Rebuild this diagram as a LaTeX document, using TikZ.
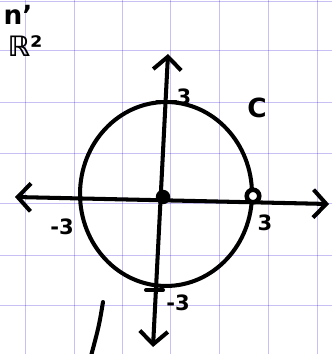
\documentclass[tikz,border=0pt]{standalone}
\usepackage{amsmath, amssymb}
\usepackage{fontspec}
\setsansfont{DejaVu Sans}
\usetikzlibrary{arrows.meta, positioning, calc}

\begin{document}
\begin{tikzpicture}[x=0.02cm, y=-0.02cm,
    pen/.style={line width=2.3pt, line cap=round, line join=round},
    barb/.tip={Straight Barb[length=2.6mm, width=5.6mm]},
    gridline/.style={draw=blue!70!violet, draw opacity=0.25, line width=0.5pt},
    lbl/.style={font=\sffamily\bfseries\fontsize{12}{14}\selectfont, inner sep=0pt},
    dot/.style={circle, fill=black, inner sep=0pt, minimum size=0.29cm},
    ring/.style={circle, draw=black, line width=2.6pt, fill=white, inner sep=0pt, minimum size=0.25cm}]
  \useasboundingbox (0,0) rectangle (332,354);
  \fill[white] (0,0) rectangle (332,354);

  % graph paper
  \foreach \gx in {25,74,122,170,219,268,317}
    \draw[gridline] (\gx,0) -- (\gx,354);
  \foreach \gy in {1,50,102,153,203,255,305}
    \draw[gridline] (0,\gy) -- (332,\gy);

  % axes
  \coordinate (W) at (15,197);
  \coordinate (E) at (329,204);
  \coordinate (N) at (168,54);
  \coordinate (S) at (153,347);
  \draw[pen, barb-barb] (W) -- (E);
  \draw[pen, barb-barb] (S) -- (N);

  % circle C
  \draw[pen] (166,194) ellipse [x radius=1.72cm, y radius=1.84cm];

  % ticks
  \coordinate (tt1) at (157,102);
  \coordinate (tt2) at (176,102);
  \coordinate (tb1) at (146,290);
  \coordinate (tb2) at (163,290);
  \draw[pen] (tt1) -- (tt2);
  \draw[pen] (tb1) -- (tb2);

  % points
  \node[dot] (O) at (163,197) {};
  \node[ring] (P) at (253,196) {};

  %label
  \node[lbl] (top3) at (184,97) {3};
  \node[lbl] (left3) at (62,227) {-3};
  \node[lbl] (right3) at (265,223) {3};
  \node[lbl] (bot3) at (178,303) {-3};
  \node[lbl, font=\sffamily\bfseries\fontsize{15}{17}\selectfont] (C) at (257,108) {C};
  \node[lbl, font=\sffamily\bfseries\fontsize{16}{18}\selectfont] (R2) at (25,46) {ℝ²};
  \node[lbl, font=\sffamily\bfseries\fontsize{15}{17}\selectfont] (top) at (18,15) {n'};

  % stray stroke
  \coordinate (s1) at (103,302);
  \coordinate (s2) at (91,356);
  \draw[pen] (s1) .. controls (99,326) .. (s2);
\end{tikzpicture}
\end{document}
